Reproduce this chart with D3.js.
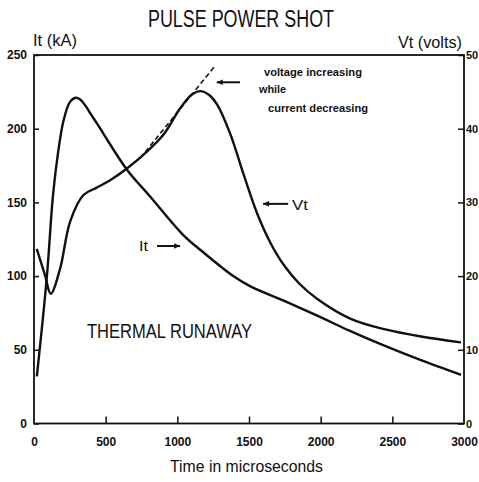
<!DOCTYPE html>
<html>
<head>
<meta charset="utf-8">
<script src="https://cdn.jsdelivr.net/npm/d3@7"></script>
<style>
  html, body { margin: 0; padding: 0; background: #fff; }
  svg { display: block; }
  text { font-family: "Liberation Sans", Arial, Helvetica, sans-serif; fill: #111; }
</style>
</head>
<body>
<svg id="chart" width="479" height="482"></svg>
<script>
// ---------- data ----------
const timeTicks = [0, 500, 1000, 1500, 2000, 2500, 3000];
const currentTicks = [0, 50, 100, 150, 200, 250];
const voltTicks = [0, 10, 20, 30, 40, 50];

// It (kA) vs time (microseconds)
const currentTime  = [20, 90, 130, 160, 205, 250, 290, 320, 360, 392, 440, 485, 650, 810, 1040, 1170, 1390, 1510, 1750, 1980, 2200, 2440, 2700, 2980];
const currentValue = [32, 100, 152, 178, 205, 218, 221, 220, 215.5, 210.5, 203.5, 196.5, 172, 154, 128, 117, 100, 93, 83, 73, 63, 53, 43, 33];

// Vt (volts) vs time (microseconds)
const voltTime  = [19, 77, 117, 182, 252, 345, 438, 531, 648, 788, 904, 1021, 1100, 1161, 1220, 1277, 1371, 1464, 1557, 1650, 1743, 1850, 1977, 2210, 2443, 2700, 2979];
const voltValue = [23.7, 20.1, 17.6, 21, 27.4, 31, 32, 33, 34.6, 36.9, 39.2, 42.8, 44.6, 45.1, 44.6, 43.3, 39.2, 33.7, 28.5, 24.5, 21.5, 19.0, 16.9, 14.2, 12.8, 11.8, 11.0];

// dashed extrapolation of the voltage rise (volts)
const dashTime  = [741, 1266];
const dashValue = [36.0, 48.6];

// ---------- layout ----------
const svg = d3.select("#chart");
const X0 = 34, X1 = 464, Y0 = 423.5, Y1 = 55;

const x = d3.scaleLinear().domain([0, 3000]).range([X0, X1]);
const yI = d3.scaleLinear().domain([0, 250]).range([Y0, Y1]);
const yV = d3.scaleLinear().domain([0, 50]).range([Y0, Y1]);

// frame
svg.append("rect")
  .attr("x", X0).attr("y", Y1)
  .attr("width", X1 - X0).attr("height", Y0 - Y1)
  .attr("fill", "none").attr("stroke", "#111").attr("stroke-width", 1.8);

// axes
function styleAxis(size) {
  return g => {
    g.select(".domain").remove();
    g.selectAll(".tick line").attr("stroke", "#111").attr("stroke-width", 1.5);
    g.selectAll(".tick text")
      .attr("font-size", size).attr("font-weight", "bold")
      .attr("font-family", "'Liberation Sans', Arial, sans-serif")
      .attr("fill", "#111");
  };
}

svg.append("g")
  .attr("transform", `translate(0,${Y0})`)
  .call(d3.axisBottom(x).tickValues(timeTicks).tickSizeInner(-7).tickSizeOuter(0).tickPadding(14).tickFormat(d3.format("d")))
  .call(styleAxis(12))
  .call(g => g.selectAll(".tick").filter(d => d === 0 || d === 3000).select("line").remove());

svg.append("g")
  .attr("transform", `translate(${X0},0)`)
  .call(d3.axisLeft(yI).tickValues(currentTicks).tickSizeInner(-5).tickSizeOuter(0).tickPadding(7).tickFormat(d3.format("d")))
  .call(styleAxis(12));

svg.append("g")
  .attr("transform", `translate(${X1},0)`)
  .call(d3.axisRight(yV).tickValues(voltTicks).tickSizeInner(-6).tickSizeOuter(0).tickPadding(2).tickFormat(d3.format("d")))
  .call(styleAxis(11));

// curves
const lineI = d3.line().x(d => x(d[0])).y(d => yI(d[1])).curve(d3.curveCatmullRom.alpha(0.5));
const lineV = d3.line().x(d => x(d[0])).y(d => yV(d[1])).curve(d3.curveCatmullRom.alpha(0.5));

svg.append("path")
  .datum(d3.zip(currentTime, currentValue))
  .attr("d", lineI)
  .attr("fill", "none").attr("stroke", "#111").attr("stroke-width", 2.4).attr("stroke-linejoin", "round");

svg.append("path")
  .datum(d3.zip(voltTime, voltValue))
  .attr("d", lineV)
  .attr("fill", "none").attr("stroke", "#111").attr("stroke-width", 2.4).attr("stroke-linejoin", "round");

svg.append("path")
  .datum(d3.zip(dashTime, dashValue))
  .attr("d", d3.line().x(d => x(d[0])).y(d => yV(d[1])))
  .attr("fill", "none").attr("stroke", "#111").attr("stroke-width", 1.6)
  .attr("stroke-dasharray", "5,3");

// arrows (in data coordinates: time, kA)
function arrow(t0, t1, v, headAtEnd) {
  const xa = x(t0), xb = x(t1), yy = yI(v);
  svg.append("line").attr("x1", xa).attr("x2", xb).attr("y1", yy).attr("y2", yy)
    .attr("stroke", "#111").attr("stroke-width", 2);
  const tip = headAtEnd ? xb : xa;
  const dir = headAtEnd ? -1 : 1;
  svg.append("path")
    .attr("d", `M${tip},${yy} L${tip + dir * 6},${yy - 2.8} L${tip + dir * 6},${yy + 2.8} Z`)
    .attr("fill", "#111");
}
arrow(1275, 1437, 231.5, false);   // annotation arrow
arrow(1598, 1773, 149, false);     // Vt arrow
arrow(858, 1019, 120.4, true);     // It arrow

// text helper
function label(txt, xPos, yPos, size, weight, len, anchor) {
  const t = svg.append("text")
    .attr("x", xPos).attr("y", yPos)
    .attr("font-size", size).attr("font-weight", weight || "normal")
    .attr("dominant-baseline", "central")
    .attr("text-anchor", anchor || "start")
    .text(txt);
  if (len) t.attr("textLength", len).attr("lengthAdjust", "spacingAndGlyphs");
  return t;
}

label("PULSE POWER SHOT", 148, 19, 23, "normal", 186);
label("It (kA)", 33, 40, 17, "normal", 44);
label("Vt (volts)", 398, 42, 17, "normal", 64);
label("Time in microseconds", 170, 466, 17, "normal", 153);
label("THERMAL RUNAWAY", 87, 331, 20, "normal", 165);
label("voltage increasing", 264, 72, 10.5, "bold", 98);
label("while", 259, 89, 10.5, "bold", 27);
label("current decreasing", 268, 108, 10.5, "bold", 100);
label("Vt", 292, 204, 15, "normal", 16);
label("It", 139, 245, 15, "normal", 9);
</script>
</body>
</html>
